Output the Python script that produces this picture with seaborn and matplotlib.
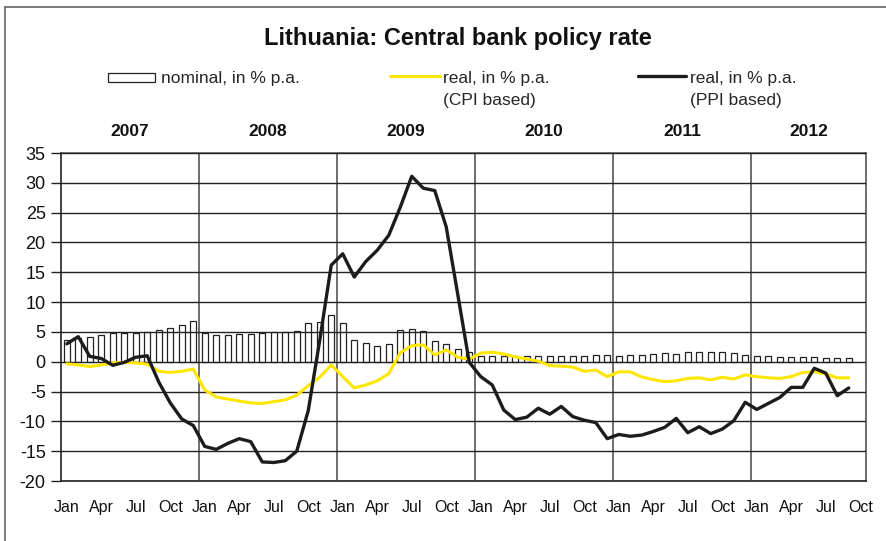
import numpy as np
import pandas as pd
import matplotlib
matplotlib.use("Agg")
import matplotlib.pyplot as plt
from matplotlib.lines import Line2D
from matplotlib.patches import Rectangle
import seaborn as sns

# monthly data, Jan 2007 .. Sep 2012 (axis runs to Oct 2012)
years = ["2007", "2008", "2009", "2010", "2011", "2012"]
month_labels = ["Jan", "Apr", "Jul", "Oct"]

nominal = [3.7, 4.0, 4.1, 4.4, 4.9, 4.8, 4.9, 5.0, 5.3, 5.65, 6.2, 6.9,
           4.8, 4.5, 4.5, 4.6, 4.7, 4.8, 5.0, 5.0, 5.1, 6.45, 6.7, 7.9,
           6.45, 3.65, 3.2, 2.65, 3.0, 5.3, 5.5, 5.1, 3.5, 3.0, 2.1, 1.6,
           1.0, 1.0, 0.9, 0.9, 0.9, 1.0, 1.0, 1.0, 0.9, 1.0, 1.1, 1.1,
           1.0, 1.2, 1.2, 1.35, 1.4, 1.35, 1.7, 1.7, 1.7, 1.6, 1.45, 1.2,
           1.0, 0.9, 0.8, 0.8, 0.8, 0.8, 0.7, 0.6, 0.6]

real_cpi = [-0.35, -0.55, -0.8, -0.55, -0.2, -0.1, -0.2, -0.4, -1.6, -1.8, -1.6, -1.25,
            -4.75, -5.9, -6.25, -6.6, -6.9, -7.0, -6.7, -6.4, -5.6, -4.0, -2.6, -0.55,
            -2.5, -4.4, -3.9, -3.2, -2.0, 1.5, 2.7, 2.85, 1.15, 2.0, 0.75, 0.45,
            1.45, 1.6, 1.3, 0.8, 0.45, 0.1, -0.65, -0.75, -0.9, -1.6, -1.4, -2.5,
            -1.7, -1.7, -2.55, -3.0, -3.35, -3.2, -2.8, -2.7, -3.05, -2.6, -2.9, -2.2,
            -2.5, -2.7, -2.8, -2.5, -1.8, -1.7, -2.05, -2.7, -2.7]

real_ppi = [3.0, 4.2, 0.9, 0.55, -0.6, -0.1, 0.75, 1.0, -3.4, -6.9, -9.6, -10.7,
            -14.2, -14.7, -13.7, -12.9, -13.4, -16.8, -16.9, -16.6, -15.0, -8.2, 3.6, 16.2,
            18.1, 14.2, 16.8, 18.7, 21.2, 25.9, 31.1, 29.1, 28.7, 22.6, 11.3, -0.1,
            -2.5, -3.9, -8.1, -9.7, -9.3, -7.8, -8.8, -7.5, -9.2, -9.8, -10.2, -12.9,
            -12.2, -12.5, -12.3, -11.7, -11.0, -9.5, -11.9, -10.9, -12.05, -11.3, -9.9, -6.8,
            -8.0, -7.0, -6.0, -4.3, -4.3, -1.1, -1.9, -5.7, -4.4]

n_months = len(years) * 12 - 2
df = pd.DataFrame({"pos": np.arange(len(nominal)), "nominal": nominal,
                   "cpi": real_cpi, "ppi": real_ppi})

sns.set_theme(style="white")
plt.rcParams["font.family"] = ["Liberation Sans", "DejaVu Sans"]
plt.rcParams["axes.unicode_minus"] = False

W, H = 886, 541
fig = plt.figure(figsize=(W / 100, H / 100), dpi=100)
ax = fig.add_axes([61 / W, 1 - 481 / H, 805 / W, 328 / H])

yellow = "#FFE600"
dark = "#1c1c1c"

sns.barplot(data=df, x="pos", y="nominal", native_scale=True, width=0.52,
            color="white", saturation=1, edgecolor="#222222", linewidth=0.9,
            errorbar=None, ax=ax, zorder=1)
sns.lineplot(data=df, x="pos", y="cpi", color=yellow, linewidth=2.2, ax=ax, zorder=3)
sns.lineplot(data=df, x="pos", y="ppi", color=dark, linewidth=2.4, ax=ax, zorder=4)

ax.set_xlim(-0.5, n_months - 0.5)
ax.set_ylim(-20, 35)
ax.set_yticks(np.arange(-20, 36, 5))
ax.set_xticks(np.arange(0, n_months, 3))
ax.set_xticklabels(month_labels * len(years))
ax.set_xticks(np.arange(11.5, n_months, 12), minor=True)
ax.set_xlabel("")
ax.set_ylabel("")

ax.set_axisbelow(False)
ax.grid(False)
ax.grid(axis="y", which="major", color="#222222", linewidth=1.0)
ax.grid(axis="x", which="minor", color="#555555", linewidth=1.2)

ax.tick_params(axis="y", which="major", left=True, length=7, width=1, color="#222222",
               direction="out", pad=4, labelsize=13, labelcolor="#111111")
ax.tick_params(axis="x", which="both", bottom=False, length=0, pad=14,
               labelsize=11.5, labelcolor="#111111")
for side, sp in ax.spines.items():
    sp.set_visible(True)
    sp.set_color("#222222" if side in ("left", "bottom") else "#555555")
    sp.set_linewidth(1.2)

# year labels above the plot
for i, yr in enumerate(years):
    first = i * 12
    last = min(first + 11, n_months - 1)
    ax.text((first + last) / 2, 1.067, yr, transform=ax.get_xaxis_transform(),
            ha="center", va="center", fontsize=12.5, fontweight="bold", color="#111111")

fig.text(458 / W, 1 - 38 / H, "Lithuania: Central bank policy rate", ha="center",
         va="center", fontsize=17, fontweight="bold", color="#111111")

# legend
fig.add_artist(Rectangle((108 / W, 1 - 82 / H), 47 / W, 9 / H, transform=fig.transFigure,
                         facecolor="white", edgecolor="#222222", linewidth=0.9))
fig.text(161 / W, 1 - 78 / H, "nominal, in % p.a.", ha="left", va="center", fontsize=12.5)
fig.add_artist(Line2D([390 / W, 440 / W], [1 - 76 / H] * 2, transform=fig.transFigure,
                      color=yellow, linewidth=2.2))
fig.text(443 / W, 1 - 78 / H, "real, in % p.a.", ha="left", va="center", fontsize=12.5)
fig.text(443 / W, 1 - 100 / H, "(CPI based)", ha="left", va="center", fontsize=12.5)
fig.add_artist(Line2D([638 / W, 686 / W], [1 - 76 / H] * 2, transform=fig.transFigure,
                      color=dark, linewidth=2.4))
fig.text(690 / W, 1 - 78 / H, "real, in % p.a.", ha="left", va="center", fontsize=12.5)
fig.text(690 / W, 1 - 100 / H, "(PPI based)", ha="left", va="center", fontsize=12.5)

# outer frame (left and top edges)
fig.add_artist(Line2D([5 / W, 5 / W], [0, 1 - 7 / H], transform=fig.transFigure,
                      color="#666666", linewidth=1.2))
fig.add_artist(Line2D([5 / W, 1], [1 - 7 / H] * 2, transform=fig.transFigure,
                      color="#666666", linewidth=1.2))

fig.savefig("out.png", dpi=100, facecolor="white")
